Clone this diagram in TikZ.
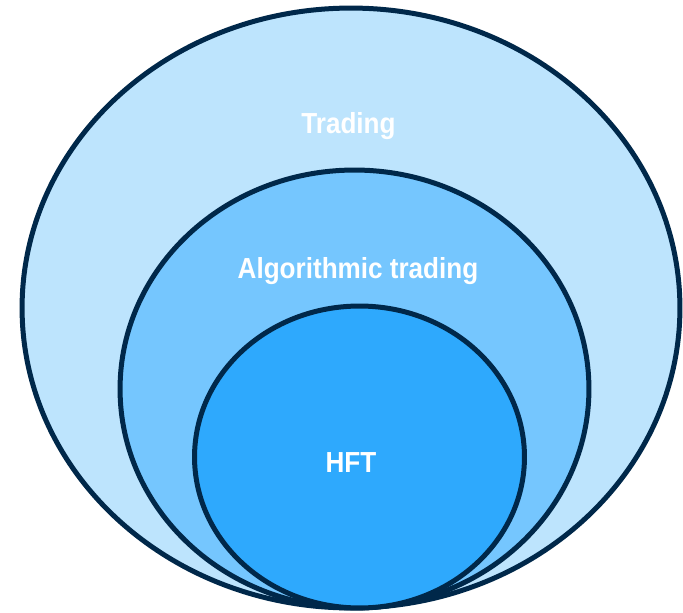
\documentclass[tikz,border=0pt]{standalone}
\usepackage{fontspec}
\setmainfont{Liberation Sans}
\usetikzlibrary{shapes.geometric}
\definecolor{ringline}{HTML}{00284A}
\definecolor{outerfill}{HTML}{BDE4FD}
\definecolor{midfill}{HTML}{75C6FE}
\definecolor{innerfill}{HTML}{2EA9FD}
\begin{document}
\begin{tikzpicture}[x=0.02cm, y=-0.02cm, every node/.style={inner sep=0pt},
    ring/.style={shape=ellipse, draw=ringline, line width=0.1cm},
    lbl/.style={text=white, anchor=base, xscale=0.9,
                font=\fontsize{16.5}{18}\selectfont\bfseries}]
  \useasboundingbox (0,0) rectangle (683,612);
  \node[ring, fill=outerfill, minimum width=13.16cm, minimum height=12cm] (trading) at (351,308) {};
  \node[ring, fill=midfill, minimum width=9.38cm, minimum height=8.76cm] (algo) at (354.5,389) {};
  \node[ring, fill=innerfill, minimum width=6.6cm, minimum height=6.04cm] (hft) at (359.5,457) {};
  \node[lbl] (tradinglbl) at (348.5,133) {Trading};
  \node[lbl] (algolbl) at (358,278) {Algorithmic trading};
  \node[lbl] (hftlbl) at (351,472) {HFT};
\end{tikzpicture}
\end{document}
